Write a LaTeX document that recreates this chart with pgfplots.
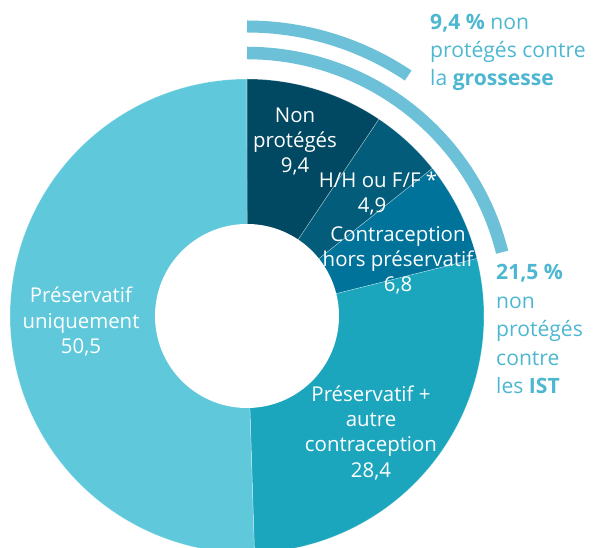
\documentclass[border=0pt]{standalone}
\usepackage{fontspec}
\setmainfont{Open Sans}
\usepackage{pgfplots}
\usepackage{pgfplotstable}
\pgfplotsset{compat=1.18}
\definecolor{cNP}{HTML}{014862}
\definecolor{cHH}{HTML}{035C7A}
\definecolor{cCH}{HTML}{00739B}
\definecolor{cPA}{HTML}{1CA6BE}
\definecolor{cPU}{HTML}{5FC9DB}
\definecolor{cArc}{HTML}{6CC0D7}
\definecolor{cTxt}{HTML}{4DB7D1}

\pgfplotstableread{
key value
np 9.4
hh 4.9
ch 6.8
pa 28.4
pu 50.5
}\shares

\newcommand\lblfont{\fontsize{20.5}{25}\selectfont}
\newcommand\sidefont{\fontsize{21.2}{28}\selectfont}

\begin{document}
\begin{tikzpicture}
\pgfplotstablegetelem{0}{value}\of\shares \let\vA\pgfplotsretval
\pgfplotstablegetelem{1}{value}\of\shares \let\vB\pgfplotsretval
\pgfplotstablegetelem{2}{value}\of\shares \let\vC\pgfplotsretval
\pgfplotstablegetelem{3}{value}\of\shares \let\vD\pgfplotsretval
\pgfplotstablegetelem{4}{value}\of\shares \let\vE\pgfplotsretval
\pgfmathsetmacro{\aA}{\vA*3.6}
\pgfmathsetmacro{\aB}{\aA+\vB*3.6}
\pgfmathsetmacro{\aC}{\aB+\vC*3.6}
\pgfmathsetmacro{\aD}{\aC+\vD*3.6}
\pgfmathsetmacro{\aE}{\aD+\vE*3.6}
\def\cx{247}\def\cy{232}\def\R{237}\def\r{92}
\begin{axis}[
  at={(0,0)}, anchor=south west,
  width=594bp, height=548bp, scale only axis,
  xmin=0, xmax=594, ymin=0, ymax=548,
  hide axis, clip=true,
  every axis plot/.append style={variable=\t},
]
\addplot[fill=cNP, draw=white, draw opacity=0.45, line width=0.5pt, domain=0:\aA, samples=60]
  ({\cx+\R*sin(\t)},{\cy+\R*cos(\t)}) -- (axis cs:\cx,\cy) -- cycle;
\addplot[fill=cHH, draw=white, draw opacity=0.45, line width=0.5pt, domain=\aA:\aB, samples=40]
  ({\cx+\R*sin(\t)},{\cy+\R*cos(\t)}) -- (axis cs:\cx,\cy) -- cycle;
\addplot[fill=cCH, draw=white, draw opacity=0.45, line width=0.5pt, domain=\aB:\aC, samples=40]
  ({\cx+\R*sin(\t)},{\cy+\R*cos(\t)}) -- (axis cs:\cx,\cy) -- cycle;
\addplot[fill=cPA, draw=white, draw opacity=0.45, line width=0.5pt, domain=\aC:\aD, samples=120]
  ({\cx+\R*sin(\t)},{\cy+\R*cos(\t)}) -- (axis cs:\cx,\cy) -- cycle;
\addplot[fill=cPU, draw=white, draw opacity=0.45, line width=0.5pt, domain=\aD:\aE, samples=180]
  ({\cx+\R*sin(\t)},{\cy+\R*cos(\t)}) -- (axis cs:\cx,\cy) -- cycle;
% hole
\addplot[fill=white, draw=none, domain=0:360, samples=180]
  ({\cx+\r*sin(\t)},{\cy+\r*cos(\t)}) -- cycle;
% outer arcs
\addplot[draw=cArc, line width=12bp, line cap=butt, domain=0:\aA, samples=80]
  ({\cx+289.5*sin(\t)},{\cy+289.5*cos(\t)});
\addplot[draw=cArc, line width=12.5bp, line cap=butt, domain=0:\aC, samples=120]
  ({\cx+263*sin(\t)},{\cy+263*cos(\t)});

% labels in segments
\begin{scope}[every node/.style={text=white, font=\lblfont, anchor=base, inner sep=0pt}]
\node at (axis cs:295,425) {Non};
\node at (axis cs:295,400) {protégés};
\node at (axis cs:295,375) {9,4};
\node at (axis cs:378,360) {H/H ou F/F *};
\node at (axis cs:372,335) {4,9};
\node at (axis cs:398,306) {Contraception};
\node at (axis cs:398,281) {hors préservatif};
\node at (axis cs:398,256) {6,8};
\node at (axis cs:81,245) {Préservatif};
\node at (axis cs:81,219.5) {uniquement};
\node at (axis cs:81,194) {50,5};
\node at (axis cs:371,146) {Préservatif +};
\node at (axis cs:371,121) {autre};
\node at (axis cs:371,96) {contraception};
\node at (axis cs:371,70) {28,4};
\end{scope}
\begin{scope}[every node/.style={text=cTxt, font=\sidefont, anchor=base west, inner sep=0pt}]
\node at (axis cs:430,518) {\textbf{9,4 \%} non};
\node at (axis cs:430,490) {protégés contre};
\node at (axis cs:430,462) {la \textbf{grossesse}};
\node at (axis cs:496,268) {\textbf{21,5 \%}};
\node at (axis cs:496,239) {non};
\node at (axis cs:496,211) {protégés};
\node at (axis cs:496,182) {contre};
\node at (axis cs:496,154) {les \textbf{IST}};
\end{scope}
\end{axis}
\pgfresetboundingbox
\path[use as bounding box] (0,0) rectangle (594bp,548bp);
\end{tikzpicture}
\end{document}
